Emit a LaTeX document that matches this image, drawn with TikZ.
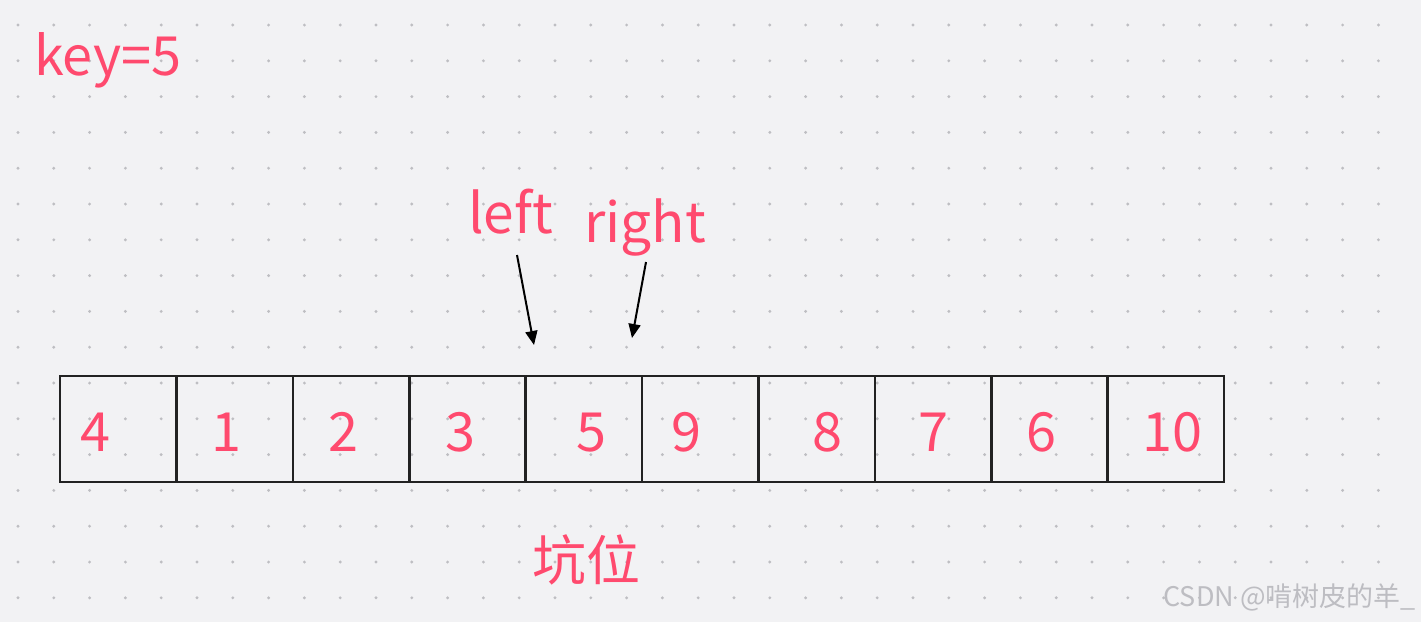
\documentclass[tikz,border=0pt]{standalone}
\usepackage{fontspec}
\setmainfont{Noto Sans CJK SC}
\usetikzlibrary{arrows.meta}
\definecolor{bgc}{HTML}{F2F2F4}
\definecolor{dotc}{HTML}{BEBEC2}
\definecolor{redc}{HTML}{FF4A6E}
\definecolor{boxc}{HTML}{222222}
\definecolor{wmc}{HTML}{BDBDC2}
\tikzset{
  cell/.style={draw=boxc, line width=2.6pt, minimum width=116.4pt, minimum height=106pt, inner sep=0pt},
  num/.style={text=redc, font=\fontsize{54}{64}\selectfont, inner sep=0pt, anchor=base},
  lbl/.style={text=redc, font=\fontsize{55}{65}\selectfont, inner sep=0pt},
  ptr/.style={draw=black, line width=2pt, -{Triangle[length=14pt,width=12pt]}},
}
\begin{document}
\begin{tikzpicture}[x=1pt,y=-1pt]
\useasboundingbox (0,0) rectangle (1421,622);
\fill[bgc] (0,0) rectangle (1421,622);
\foreach \i in {0,...,38}{
  \foreach \j in {0,...,16}{
    \fill[dotc] (18+35.8*\i, 25+35.8*\j) circle (1.6pt);
  }
}
% cells
\foreach \k in {0,...,9}{
  \node[cell] (c\k) at (118.2+116.4*\k, 429) {};
}
% numbers
\node[num] (n0) at (95,451) {4};
\node[num] (n1) at (226,451) {1};
\node[num] (n2) at (343,451) {2};
\node[num] (n3) at (460,451) {3};
\node[num] (n4) at (591,451) {5};
\node[num] (n5) at (686,451) {9};
\node[num] (n6) at (827,451) {8};
\node[num] (n7) at (933,451) {7};
\node[num] (n8) at (1041,451) {6};
\node[num] (n9) at (1172,451) {10};
% labels
\node[lbl, anchor=base west, font=\fontsize{54}{64}\selectfont] (key) at (34,75) {key=5};
\node[lbl, anchor=base west] (left) at (468,233) {left};
\node[lbl, anchor=base west] (right) at (584,242) {right};
\node[lbl, anchor=center, font=\fontsize{54}{64}\selectfont] (pit) at (586,560) {坑位};
% arrows
\coordinate (ls) at (517,255);
\coordinate (le) at (534,345);
\coordinate (rs) at (646,262);
\coordinate (re) at (632,338);
\draw[ptr] (ls) -- (le);
\draw[ptr] (rs) -- (re);
% watermark
\node[text=wmc, font=\fontsize{27}{32}\selectfont, anchor=east, inner sep=0pt] (wm) at (1416,597) {CSDN @啃树皮的羊\_};
\end{tikzpicture}
\end{document}
